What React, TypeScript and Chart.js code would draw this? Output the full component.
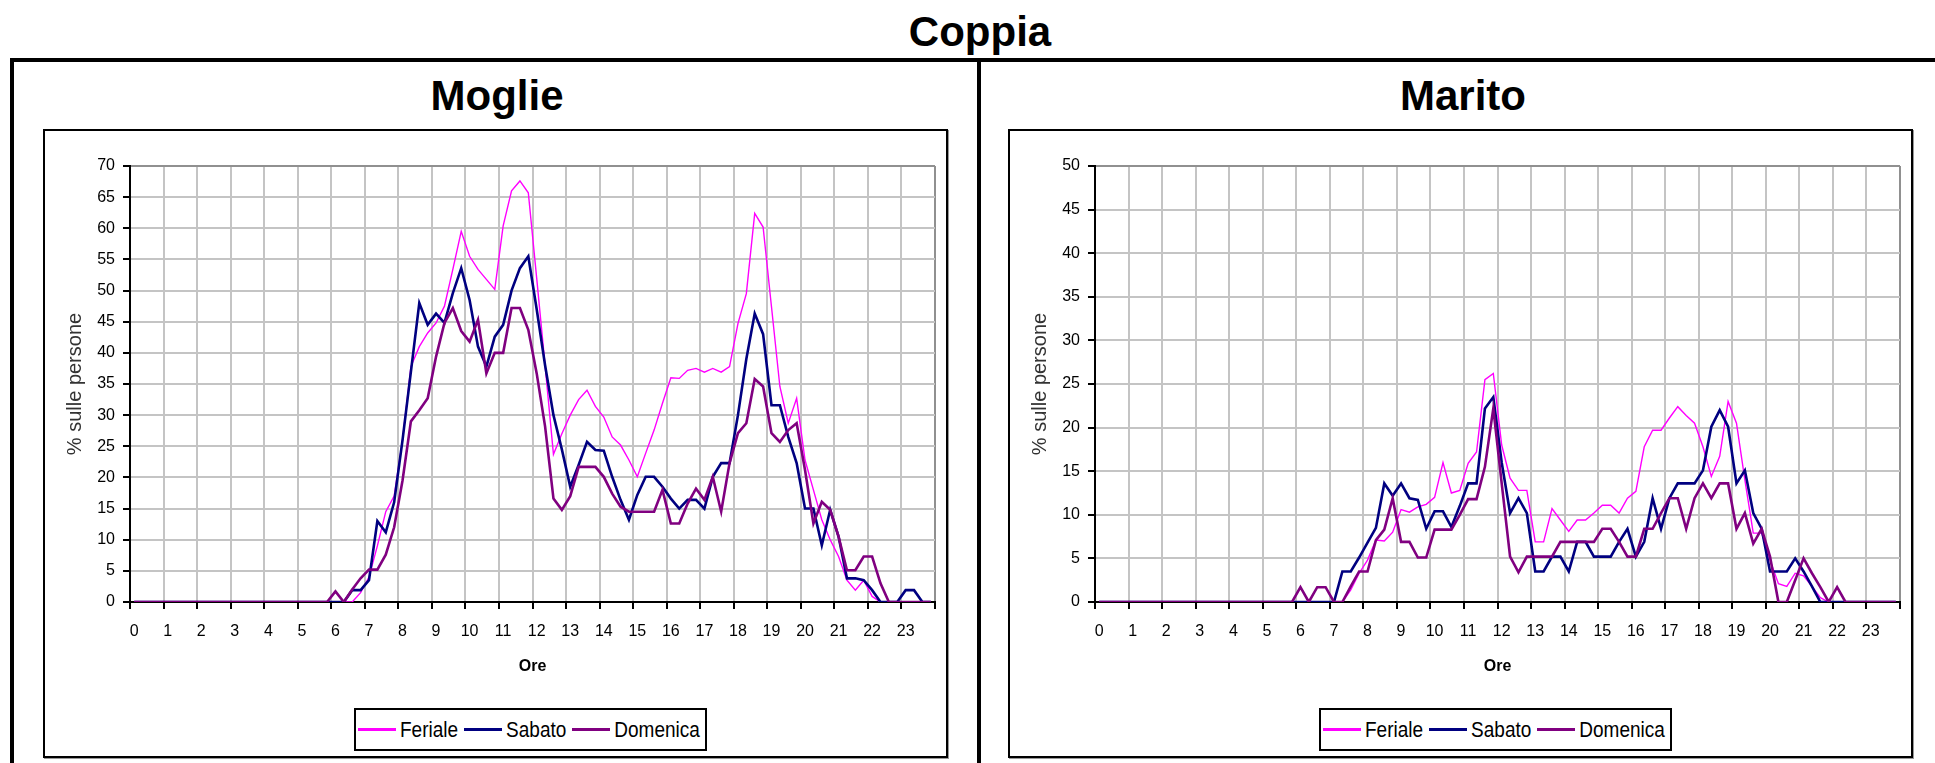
import React, { useEffect, useRef } from 'react';
import { Chart, registerables } from 'chart.js';

Chart.register(...registerables);

const FONT = "'Liberation Sans', Arial, sans-serif";
const TICK_FONT = "'Liberation Sans Narrow', 'Liberation Sans', Arial, sans-serif";

// 96 quarter-hour slots (categories)
const slotLabels: string[] = [];
for (let h = 0; h < 24; h++) {
  for (const m of ['00', '15', '30', '45']) slotLabels.push(`${h}:${m}`);
}
const hourTickLabels = ['0','1','2','3','4','5','6','7','8','9','10','11','12','13','14','15','16','17','18','19','20','21','22','23'];

const seriesNames = ['Feriale', 'Sabato', 'Domenica'];
const seriesColors = ['#FF00FF', '#000080', '#800080'];

const night = [0,0,0,0, 0,0,0,0, 0,0,0,0, 0,0,0,0, 0,0,0,0, 0,0,0,0];

const moglieFeriale = [...night,
  0,0,0,1.5, 4,9,14.5,17, 26,37.8,41,43.2, 44.8,47.5,53.4,59.5,
  55.5,53.4,51.8,50.2, 60.4,66,67.6,65.7, 52,38,23.7,27, 30,32.5,34,31.4,
  29.7,26.5,25.2,22.8, 20.1,23.9,27.6,31.9, 36,35.9,37.2,37.5, 36.9,37.5,36.9,37.8,
  44.7,49.5,62.4,60.2, 47.4,34.6,28.7,32.7, 22.8,18,13.2,10, 7.3,3.5,1.9,3.5,
  0.9,0,0,0, 0,0,0,0];
const moglieSabato = [...night,
  0,0,1.9,1.9, 3.5,13,11.2,16, 26,37,48,44.5, 46.3,44.8,49.6,53.6,
  48.5,41,37.8,42.6, 44.5,50,53.6,55.5, 47,38,30,24.5, 18.5,22,25.7,24.4,
  24.3,20.1,16.4,13.2, 17.2,20.1,20.1,18.5, 16.6,15,16.4,16.4, 15,20.1,22.3,22.3,
  30,39,46.3,43, 31.6,31.6,26.5,22.3, 15,15,9.1,14.8, 10.5,3.8,3.8,3.5,
  1.9,0,0,0, 1.9,1.9,0,0];
const moglieDomenica = [...night,
  1.7,0,2,3.8, 5.2,5.2,7.6,12, 19.5,29,30.8,32.7, 39.4,44.8,47.2,43.5,
  41.8,45.3,36.7,40, 40,47.2,47.2,43.7, 36.7,28.2,16.6,14.8, 17,21.7,21.7,21.7,
  20.1,17.4,15.3,14.5, 14.5,14.5,14.5,18, 12.6,12.6,15.8,18.2, 16.4,20.1,14.5,22.3,
  27.1,28.7,35.8,34.6, 27.1,25.7,27.6,28.7, 21.2,12.6,16.1,14.8, 10.5,5.1,5.1,7.3,
  7.3,3,0,0, 0,0,0,0];

const maritoFeriale = [...night,
  0,0,0,0, 0,0,1.4,3.3, 4.8,7.1,7,8, 10.6,10.3,10.9,11.2,
  12,16,12.5,12.8, 15.9,17.2,25.5,26.2, 18,14.2,12.8,12.8, 6.9,6.9,10.7,9.4,
  8.1,9.4,9.4,10.2, 11.1,11.1,10.2,11.9, 12.7,17.8,19.7,19.7, 21.1,22.4,21.4,20.5,
  17.8,14.4,16.7,23, 20.5,14,7.9,7.9, 4.8,2.1,1.8,3.3, 3,1.8,0.5,0,
  0,0,0,0, 0,0,0,0];
const maritoSabato = [...night,
  0,0,0,0, 0,3.5,3.5,5.1, 6.8,8.5,13.6,12.2, 13.6,11.9,11.7,8.4,
  10.4,10.4,8.6,11, 13.6,13.6,22.2,23.5, 16,10.2,11.9,10.2, 3.5,3.5,5.2,5.2,
  3.5,6.9,6.9,5.2, 5.2,5.2,6.9,8.4, 5.2,6.9,11.9,8.4, 11.9,13.6,13.6,13.6,
  15.1,20.1,22,20.1, 13.6,15.1,10.2,8.4, 3.5,3.5,3.5,5, 3.5,1.8,0,0,
  0,0,0,0, 0,0,0,0];
const maritoDomenica = [...night,
  1.7,0,1.7,1.7, 0,0,1.8,3.5, 3.5,7.1,8.3,11.9, 6.9,6.9,5.1,5.1,
  8.3,8.3,8.3,10, 11.8,11.8,15.5,22.2, 13.6,5.2,3.4,5.2, 5.2,5.2,5.2,6.9,
  6.9,6.9,6.9,6.9, 8.4,8.4,6.9,5.2, 5.2,8.4,8.4,10.2, 11.9,11.9,8.4,11.9,
  13.6,11.9,13.6,13.6, 8.4,10.2,6.7,8.4, 5.2,0,0,2.5, 5,3.3,1.7,0,
  1.7,0,0,0, 0,0,0,0];

const BOX_W = 905;
const BOX_H = 629;

function makeConfig(series: number[][], yMax: number): any {
  const widths = [1.4, 2.6, 2.6];
  const orders = [2, 1, 0];
  return {
    type: 'line',
    data: {
      labels: slotLabels,
      datasets: series.map((d, i) => ({
        label: seriesNames[i],
        data: d,
        borderColor: seriesColors[i],
        backgroundColor: seriesColors[i],
        borderWidth: widths[i],
        pointRadius: 0,
        tension: 0,
        fill: false,
        order: orders[i],
      })),
    },
    options: {
      animation: false,
      responsive: false,
      maintainAspectRatio: false,
      layout: { padding: { left: 0, right: 13, top: 37, bottom: 82 } },
      plugins: { legend: { display: false }, tooltip: { enabled: false }, title: { display: false } },
      scales: {
        x: {
          type: 'category',
          offset: true,
          grid: {
            offset: true,
            lineWidth: 2,
            color: (c: any) => (c.index === undefined ? '#909090' : c.index % 4 === 0 ? '#c4c4c4' : 'rgba(0,0,0,0)'),
            tickLength: 7,
            tickWidth: 2,
            tickColor: (c: any) => (c.index === undefined || c.index % 4 === 0 ? '#000' : 'rgba(0,0,0,0)'),
          },
          border: { display: true, color: '#000', width: 2 },
          ticks: {
            autoSkip: false,
            maxRotation: 0,
            minRotation: 0,
            padding: 13,
            color: '#000',
            font: { family: TICK_FONT, size: 16 },
            callback: (_v: any, i: number) => (i % 4 === 0 ? hourTickLabels[i / 4] : ''),
          },
          title: { display: true, text: 'Ore', color: '#000', font: { family: FONT, size: 16, weight: 'bold' }, padding: 0 },
          afterFit: (s: any) => { s.height = 74; },
        },
        y: {
          type: 'linear',
          min: 0,
          max: yMax,
          grid: {
            lineWidth: 2,
            color: (c: any) => (c.tick && c.tick.value === yMax ? '#909090' : '#c4c4c4'),
            tickLength: 7,
            tickWidth: 2,
            tickColor: '#000',
          },
          border: { display: true, color: '#000', width: 2 },
          ticks: {
            stepSize: 5,
            padding: 8,
            color: '#000',
            font: { family: TICK_FONT, size: 16 },
          },
          title: { display: true, text: '% sulle persone', color: '#333', font: { family: FONT, size: 20 }, padding: { top: 20, bottom: 0 } },
          afterFit: (s: any) => { s.width = 87; },
        },
      },
    },
  };
}

function LineChart({ series, yMax }: { series: number[][]; yMax: number }) {
  const ref = useRef<HTMLCanvasElement>(null);
  useEffect(() => {
    if (!ref.current) return;
    const chart = new Chart(ref.current, makeConfig(series, yMax));
    return () => chart.destroy();
  }, [series, yMax]);
  return (
    <canvas
      ref={ref}
      width={BOX_W}
      height={BOX_H}
      style={{ position: 'absolute', left: 0, top: 0, width: BOX_W, height: BOX_H }}
    />
  );
}

function Legend() {
  return (
    <div
      style={{
        position: 'absolute', left: 311, top: 579, width: 353, height: 43,
        boxSizing: 'border-box', border: '2px solid #000', background: '#fff',
        display: 'flex', alignItems: 'center', paddingLeft: 2,
        fontFamily: FONT, fontSize: 19, color: '#000', whiteSpace: 'nowrap',
      }}
    >
      {seriesNames.map((n, i) => (
        <React.Fragment key={n}>
          <span style={{ display: 'inline-block', width: 38, height: 3, background: seriesColors[i], marginLeft: i === 0 ? 0 : 6, marginRight: 4 }} />
          <span style={{ display: 'inline-block', transform: 'scaleY(1.2)' }}>{n}</span>
        </React.Fragment>
      ))}
    </div>
  );
}

function Panel({ left, title, titleCenter, series, yMax }: { left: number; title: string; titleCenter: number; series: number[][]; yMax: number }) {
  return (
    <>
      <div style={{ position: 'absolute', left: titleCenter - 200, width: 400, top: 75, textAlign: 'center', fontFamily: FONT, fontWeight: 'bold', fontSize: 42, lineHeight: '42px', color: '#000' }}>
        {title}
      </div>
      <div style={{ position: 'absolute', left, top: 129, width: BOX_W, height: BOX_H }}>
        <LineChart series={series} yMax={yMax} />
        <div style={{ position: 'absolute', left: 0, top: 0, width: BOX_W, height: BOX_H, boxSizing: 'border-box', border: '2px solid #000', boxShadow: '1px 1px 0 #999', pointerEvents: 'none' }} />
        <Legend />
      </div>
    </>
  );
}

export default function App() {
  useEffect(() => {
    document.body.style.margin = '0';
  }, []);
  const moglie = [moglieFeriale, moglieSabato, moglieDomenica];
  const marito = [maritoFeriale, maritoSabato, maritoDomenica];
  return (
    <div style={{ position: 'relative', width: 1935, height: 763, overflow: 'hidden', background: '#fff' }}>
      <div style={{ position: 'absolute', left: 780, width: 400, top: 11, textAlign: 'center', fontFamily: FONT, fontWeight: 'bold', fontSize: 42, lineHeight: '42px', color: '#000' }}>
        Coppia
      </div>
      <div style={{ position: 'absolute', left: 10, top: 58, width: 1925, height: 4, background: '#000' }} />
      <div style={{ position: 'absolute', left: 10, top: 58, width: 4, height: 705, background: '#000' }} />
      <div style={{ position: 'absolute', left: 977, top: 58, width: 4, height: 705, background: '#000' }} />
      <Panel left={43} title="Moglie" titleCenter={497} series={moglie} yMax={70} />
      <Panel left={1008} title="Marito" titleCenter={1463} series={marito} yMax={50} />
    </div>
  );
}
